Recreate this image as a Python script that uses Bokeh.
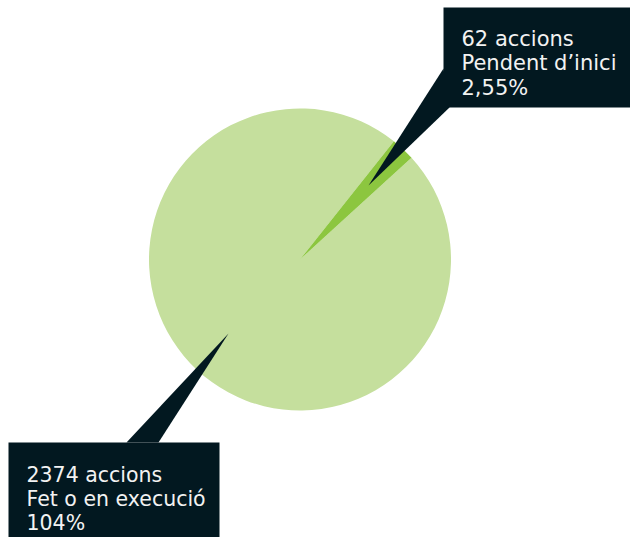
import math
from bokeh.plotting import figure
from bokeh.models import Range1d
from bokeh.core.properties import value
from bokeh.embed import file_html
from bokeh.resources import INLINE

# ---- data ----
categories = ["Pendent d\u2019inici", "Fet o en execuci\u00f3"]
counts = [62, 2374]
count_labels = ["62 accions", "2374 accions"]
pct_labels = ["2,55%", "104%"]
colors = ["#8cc63f", "#c5df9d"]

W, H = 630, 537
p = figure(width=W, height=H, output_backend="svg", toolbar_location=None,
           x_range=Range1d(0, W), y_range=Range1d(0, H),
           min_border=0, outline_line_color=None, background_fill_color="white")
p.axis.visible = False
p.grid.visible = False

# screen y -> data y
def sy(y):
    return H - y

navy = "#021820"

# pie
cx, cy, r = 299.5, sy(259), 151
total = sum(counts)
start = math.radians(42.4)
angles = [2 * math.pi * c / total for c in counts]
starts, ends = [], []
a = start
for ang in angles:
    starts.append(a)
    ends.append(a + ang)
    a += ang
# big slice first, then small
p.wedge(x=cx, y=cy, radius=r, start_angle=[starts[1]], end_angle=[ends[1]],
        fill_color=colors[1], line_color=None)
p.wedge(x=cx, y=cy, radius=r, start_angle=[starts[0]], end_angle=[ends[0]],
        fill_color=colors[0], line_color=None)

# callout pointers
p.patch(x=[368, 443, 449], y=[sy(185), sy(68), sy(107)], fill_color=navy, line_color=None)
p.patch(x=[228, 126, 158], y=[sy(333), sy(442), sy(442)], fill_color=navy, line_color=None)

# callout boxes
p.quad(left=[443], right=[640], top=[sy(7)], bottom=[sy(107)], fill_color=navy, line_color=None)
p.quad(left=[8], right=[219], top=[sy(442)], bottom=[sy(545)], fill_color=navy, line_color=None)

# texts
top_lines = [count_labels[0], categories[0], pct_labels[0]]
bot_lines = [count_labels[1], categories[1], pct_labels[1]]
top_base = [38.3, 62.8, 87.0]
bot_base = [474.3, 498.5, 522.8]
p.text(x=[461] * 3, y=[sy(b) for b in top_base], text=top_lines,
       text_font=value("DejaVu Sans"), text_font_size="21px",
       text_color="#f2f2f2", text_baseline="alphabetic", text_align="left")
p.text(x=[26] * 3, y=[sy(b) for b in bot_base], text=bot_lines,
       text_font=value("DejaVu Sans"), text_font_size="20.5px",
       text_color="#f2f2f2", text_baseline="alphabetic", text_align="left")

open("out.html", "w").write(file_html(p, INLINE))
